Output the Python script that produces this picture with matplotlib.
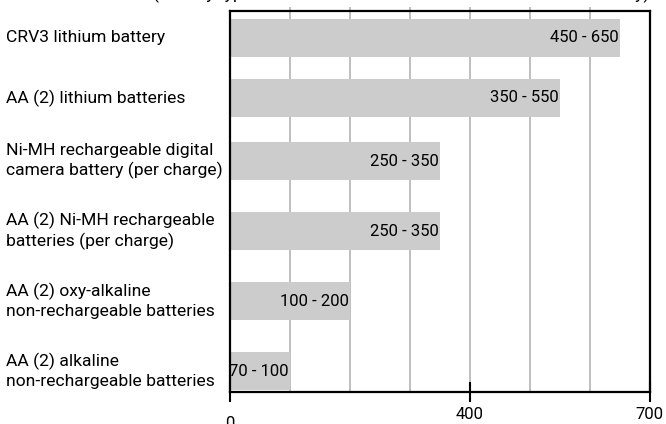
import matplotlib.pyplot as plt
import matplotlib.transforms as mtransforms

# battery types, top to bottom
batteries = [
    'CRV3 lithium battery',
    'AA (2) lithium batteries',
    'Ni-MH rechargeable digital\ncamera battery (per charge)',
    'AA (2) Ni-MH rechargeable\nbatteries (per charge)',
    'AA (2) oxy-alkaline\nnon-rechargeable batteries',
    'AA (2) alkaline\nnon-rechargeable batteries',
]
shots_low = [450, 350, 250, 250, 100, 70]
shots_high = [650, 550, 350, 350, 200, 100]

x_ticks = [0, 400, 700]
grid_at = [100, 200, 300, 400, 500, 600]

# bar centres in pixel rows of the plot area
rows = [38, 98, 161, 231, 301, 371]
bar_h = 38

plt.rcParams['font.family'] = ['Roboto', 'DejaVu Sans']
FS = 12
FS_NAMES = 12.6

fig = plt.figure(figsize=(6.66, 4.24), dpi=100)
ax = fig.add_axes([230 / 666, 1 - 391.5 / 424, 419.5 / 666, 380 / 424])

ax.barh(rows, shots_high, height=bar_h, color='#cccccc', zorder=2)
for r, lo, hi in zip(rows, shots_low, shots_high):
    ax.text(hi - 2, r, f'{lo} - {hi}', ha='right', va='center',
            fontsize=FS, zorder=3)

# grid lines poke a little above the frame
ax.vlines(grid_at, 0, 1 + 4 / 380, transform=ax.get_xaxis_transform(),
          colors='#b4b4b4', linewidth=1.2, clip_on=False, zorder=1)

ax.set_xlim(0, 700)
ax.set_ylim(391.5, 11.5)
ax.set_yticks([])
ax.set_xticks(x_ticks)
ax.set_xticklabels([str(t) for t in x_ticks])
ax.tick_params(axis='x', direction='inout', length=15, width=1.5, pad=4,
               labelsize=FS)
for s in ax.spines.values():
    s.set_linewidth(1.6)
    s.set_zorder(4)

# the "0" label sits a bit lower than the others
lab0 = ax.get_xticklabels()[0]
lab0.set_transform(lab0.get_transform() +
                   mtransforms.ScaledTranslation(0, -6 / 72, fig.dpi_scale_trans))

# category names, left aligned at the figure edge
trans = mtransforms.blended_transform_factory(fig.transFigure, ax.transData)
for r, name in zip(rows, batteries):
    fig.text(6 / 666, r, name, transform=trans, ha='left', va='center',
             multialignment='left', linespacing=1.3, fontsize=FS_NAMES)

fig.text(153 / 666, 1 + 1 / 424,
         '(Battery type \u2014 Number of shots taken with a fresh new battery)',
         ha='left', va='baseline', fontsize=FS_NAMES)

plt.savefig('out.png', dpi=100)
